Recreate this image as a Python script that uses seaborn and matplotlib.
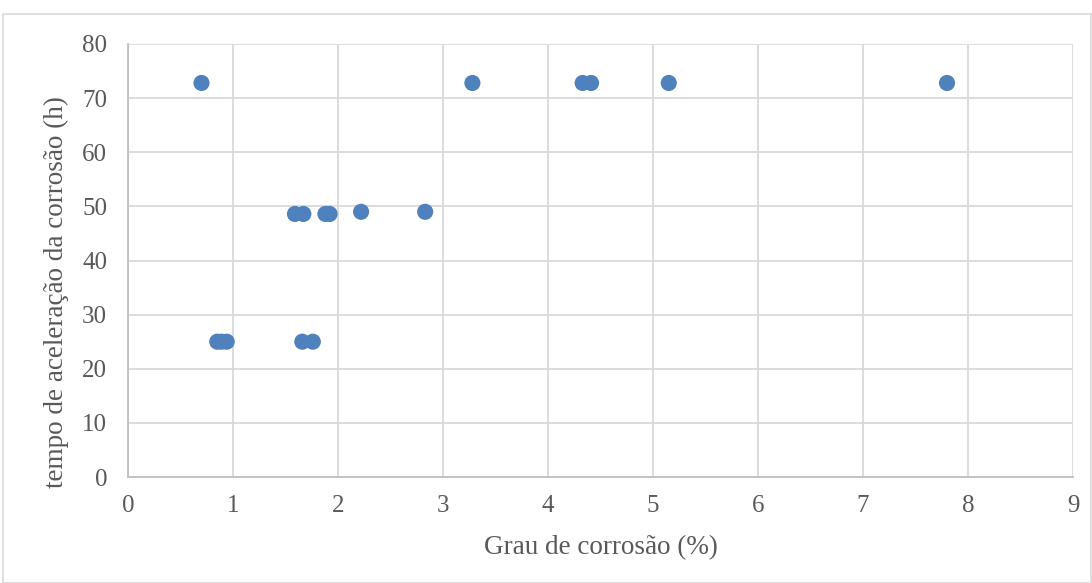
import matplotlib
matplotlib.use("Agg")
import matplotlib.pyplot as plt
import seaborn as sns
import pandas as pd
from matplotlib.patches import Rectangle

# Data
grau_corrosao = [0.70, 3.28, 4.33, 4.41, 5.15, 7.80,
                 1.59, 1.67, 1.88, 1.92, 2.22, 2.83,
                 0.85, 0.89, 0.94, 1.66, 1.76]
tempo_horas = [72.8, 72.8, 72.8, 72.8, 72.8, 72.8,
               48.6, 48.6, 48.6, 48.6, 49.0, 49.0,
               25.0, 25.0, 25.0, 25.0, 25.0]
x_ticks = list(range(0, 10))
y_ticks = list(range(0, 90, 10))
x_label = "Grau de corrosão (%)"
y_label = "tempo de aceleração da corrosão (h)"

df = pd.DataFrame({"x": grau_corrosao, "y": tempo_horas})

sns.set_theme(style="white")
plt.rcParams["font.family"] = ["Liberation Serif", "DejaVu Serif"]

fig = plt.figure(figsize=(10.92, 5.83), dpi=100)
fig.patches.append(Rectangle((3 / 1092, 0.5 / 583), 1088 / 1092, 569 / 583,
                             transform=fig.transFigure, fill=False,
                             edgecolor="#D9D9D9", linewidth=1.2))
ax = fig.add_axes([128 / 1092, (583 - 477) / 583, 945 / 1092, 433 / 583])

sns.scatterplot(data=df, x="x", y="y", ax=ax, s=135, color="#4F81BD",
                edgecolor="none", zorder=3)

ax.set_xlim(0, 9)
ax.set_ylim(0, 80)
ax.set_xticks(x_ticks)
ax.set_yticks(y_ticks)
ax.set_xticklabels([str(v) for v in x_ticks])
ax.set_yticklabels([str(v) for v in y_ticks])
ax.grid(True, color="#D9D9D9", linewidth=1.3, zorder=0)
ax.set_axisbelow(True)
for side in ["top", "right"]:
    ax.spines[side].set_visible(False)
for side in ["left", "bottom"]:
    ax.spines[side].set_color("#BFBFBF")
    ax.spines[side].set_linewidth(1.3)
ax.tick_params(axis="x", length=0, labelsize=18, colors="#595959", pad=13)
ax.tick_params(axis="y", length=0, labelsize=18, colors="#595959", pad=15)
ax.set_xlabel(x_label, fontsize=19.5, color="#595959", va="center")
ax.set_ylabel(y_label, fontsize=19.5, color="#595959", va="center", ha="center")
ax.xaxis.set_label_coords(0.5, (477 - 548) / 433)
ax.yaxis.set_label_coords((56 - 128) / 945, (477 - 292) / 433)

fig.savefig("out.png", dpi=100)
